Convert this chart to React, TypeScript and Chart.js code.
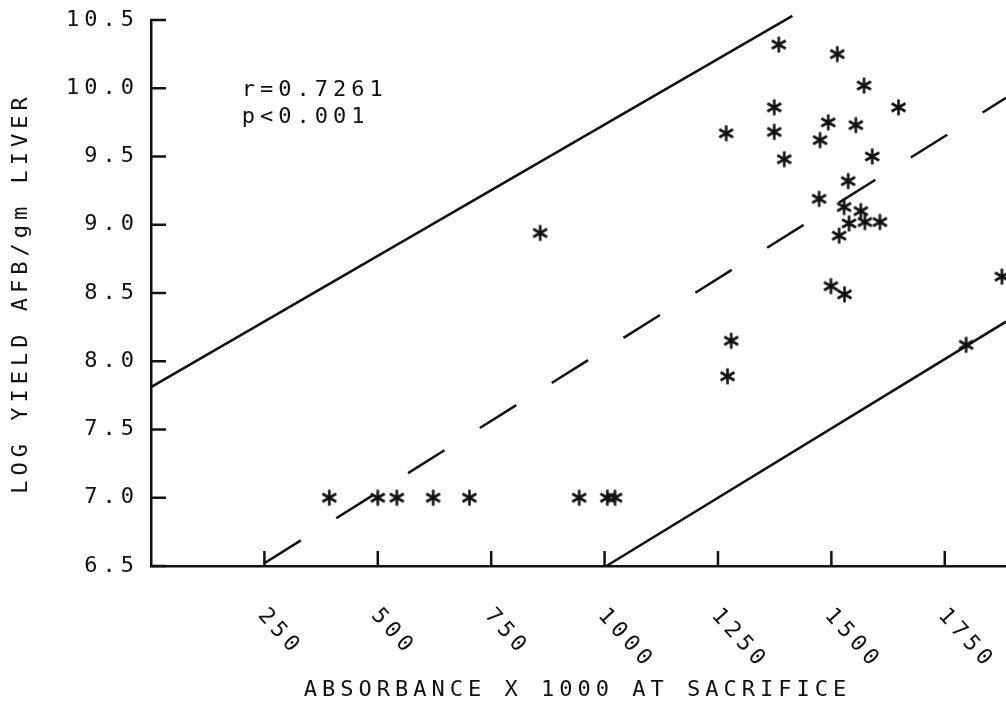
import React, { useEffect, useRef } from 'react';
import { Chart, registerables } from 'chart.js';

Chart.register(...registerables);

// Scatter data: absorbance x 1000 at sacrifice vs log yield AFB/gm liver
const absorbance = [
  393, 500, 542, 622, 702, 944, 1006, 1023,
  858,
  1268, 1279, 1271,
  1374, 1374, 1396, 1384,
  1513, 1572, 1648, 1493, 1475, 1554, 1590, 1537,
  1473, 1528, 1565, 1539, 1574, 1607, 1517,
  1499, 1529,
  1876, 1797,
];
const logYield = [
  7.0, 7.0, 7.0, 7.0, 7.0, 7.0, 7.0, 7.0,
  8.94,
  9.67, 8.15, 7.89,
  9.86, 9.68, 9.48, 10.32,
  10.25, 10.02, 9.86, 9.75, 9.62, 9.73, 9.50, 9.32,
  9.19, 9.13, 9.10, 9.01, 9.02, 9.02, 8.92,
  8.55, 8.49,
  8.62, 8.12,
];

// Regression line (dashed) and the two solid limit lines
const fitX = [250, 1885];
const fitY = [6.52, 9.93];
const upperX = [0, 1414];
const upperY = [7.81, 10.53];
const lowerX = [1004, 1885];
const lowerY = [6.5, 8.29];

// Axes
const xMin = 0;
const xMax = 1885;
const yMin = 6.5;
const yMax = 10.5;
const xTickValues = [250, 500, 750, 1000, 1250, 1500, 1750];
const xTickLabels = ['250', '500', '750', '1000', '1250', '1500', '1750'];
const yTickValues = [6.5, 7.0, 7.5, 8.0, 8.5, 9.0, 9.5, 10.0, 10.5];

const xTitle = 'ABSORBANCE X 1000 AT SACRIFICE';
const yTitle = 'LOG YIELD AFB/gm LIVER';
const statLines = ['r=0.7261', 'p<0.001'];

const FONT_FAMILY = '"DejaVu Sans Mono", monospace';
const FONT_SIZE = 22;
const SPACING = '5px';
const INK = '#111';

function makeStar(r: number, lw: number): HTMLCanvasElement {
  const c = document.createElement('canvas');
  const s = Math.ceil(2 * r + lw + 2);
  c.width = s;
  c.height = s;
  const g = c.getContext('2d')!;
  g.strokeStyle = INK;
  g.lineWidth = lw;
  g.lineCap = 'butt';
  const cx = s / 2;
  const cy = s / 2;
  for (const a of [90, 30, 150]) {
    const rad = (a * Math.PI) / 180;
    g.beginPath();
    g.moveTo(cx - r * Math.cos(rad), cy - r * Math.sin(rad));
    g.lineTo(cx + r * Math.cos(rad), cy + r * Math.sin(rad));
    g.stroke();
  }
  return c;
}

const spacingPlugin = {
  id: 'letterSpacing',
  beforeInit(chart: any) {
    chart.ctx.letterSpacing = SPACING;
  },
  beforeLayout(chart: any) {
    chart.ctx.letterSpacing = SPACING;
  },
  beforeDraw(chart: any) {
    chart.ctx.letterSpacing = SPACING;
  },
};

const decorPlugin = {
  id: 'decor',
  afterDraw(chart: any) {
    const { ctx, chartArea, scales } = chart;
    const xs = scales.x;
    const ys = scales.y;
    const tick = 15;
    ctx.save();
    ctx.letterSpacing = SPACING;
    ctx.strokeStyle = INK;
    ctx.fillStyle = INK;
    ctx.lineWidth = 2.5;
    // inward tick marks on y axis
    yTickValues.forEach((v) => {
      const py = ys.getPixelForValue(v);
      ctx.beginPath();
      ctx.moveTo(chartArea.left, py);
      ctx.lineTo(chartArea.left + tick, py);
      ctx.stroke();
    });
    // inward tick marks on x axis + rotated labels
    ctx.font = `${FONT_SIZE}px ${FONT_FAMILY}`;
    xTickValues.forEach((v, i) => {
      const px = xs.getPixelForValue(v);
      ctx.beginPath();
      ctx.moveTo(px, chartArea.bottom);
      ctx.lineTo(px, chartArea.bottom - tick);
      ctx.stroke();
      ctx.save();
      ctx.translate(px - 3, chartArea.bottom + 46);
      ctx.rotate((48 * Math.PI) / 180);
      ctx.textAlign = 'left';
      ctx.textBaseline = 'middle';
      ctx.fillText(xTickLabels[i], 0, 0);
      ctx.restore();
    });
    // axis titles
    ctx.textAlign = 'center';
    ctx.textBaseline = 'middle';
    ctx.fillText(xTitle, (chartArea.left + chartArea.right) / 2 - 1, 690);
    ctx.save();
    ctx.translate(21, (chartArea.top + chartArea.bottom) / 2);
    ctx.rotate(-Math.PI / 2);
    ctx.fillText(yTitle, 0, 0);
    ctx.restore();
    // statistics annotation
    ctx.textAlign = 'left';
    ctx.textBaseline = 'alphabetic';
    const ax = xs.getPixelForValue(200);
    ctx.fillText(statLines[0], ax, 96);
    ctx.fillText(statLines[1], ax, 123);
    ctx.restore();
  },
};

export default function App() {
  const ref = useRef<HTMLCanvasElement | null>(null);

  useEffect(() => {
    document.body.style.margin = '0';
    document.body.style.overflow = 'hidden';
    const canvas = ref.current;
    if (!canvas) return;
    const star = makeStar(8, 2.6);
    const lineCommon = {
      showLine: true,
      borderColor: INK,
      borderWidth: 2.5,
      pointRadius: 0,
      pointHoverRadius: 0,
      fill: false,
      clip: false as any,
      tension: 0,
    };
    const chart = new Chart(canvas, {
      type: 'scatter',
      data: {
        datasets: [
          {
            label: 'samples',
            data: absorbance.map((x, i) => ({ x, y: logYield[i] })),
            pointStyle: star as any,
            pointRadius: 8,
            showLine: false,
            clip: false as any,
          },
          {
            label: 'upper',
            data: upperX.map((x, i) => ({ x, y: upperY[i] })),
            ...lineCommon,
          },
          {
            label: 'fit',
            data: fitX.map((x, i) => ({ x, y: fitY[i] })),
            ...lineCommon,
            borderDash: [43, 41.8],
          },
          {
            label: 'lower',
            data: lowerX.map((x, i) => ({ x, y: lowerY[i] })),
            ...lineCommon,
          },
        ],
      },
      options: {
        responsive: false,
        animation: false,
        events: [],
        layout: { autoPadding: false, padding: { top: 20, left: 0, right: 0, bottom: 0 } },
        plugins: {
          legend: { display: false },
          tooltip: { enabled: false },
          title: { display: false },
        },
        scales: {
          x: {
            type: 'linear',
            min: xMin,
            max: xMax,
            grid: { display: false, drawTicks: false },
            border: { display: true, color: INK, width: 2.5 },
            ticks: { display: false, stepSize: 250 },
            afterFit: (scale: any) => {
              scale.height = 150;
              scale.paddingLeft = 0;
              scale.paddingRight = 0;
            },
          },
          y: {
            type: 'linear',
            min: yMin,
            max: yMax,
            grid: { display: false, drawTicks: false },
            border: { display: true, color: INK, width: 2.5 },
            ticks: {
              stepSize: 0.5,
              padding: 12,
              color: INK,
              font: { family: FONT_FAMILY, size: FONT_SIZE },
              callback: (v: any) => Number(v).toFixed(1),
            },
            afterFit: (scale: any) => {
              scale.width = 151;
              scale.paddingTop = 0;
              scale.paddingBottom = 0;
            },
          },
        },
      },
      plugins: [spacingPlugin, decorPlugin],
    });
    return () => chart.destroy();
  }, []);

  return (
    <div
      style={{
        position: 'absolute',
        left: 0,
        top: 0,
        width: 1006,
        height: 716,
        overflow: 'hidden',
        background: '#fff',
      }}
    >
      <canvas ref={ref} width={1006} height={716} style={{ display: 'block' }} />
    </div>
  );
}
